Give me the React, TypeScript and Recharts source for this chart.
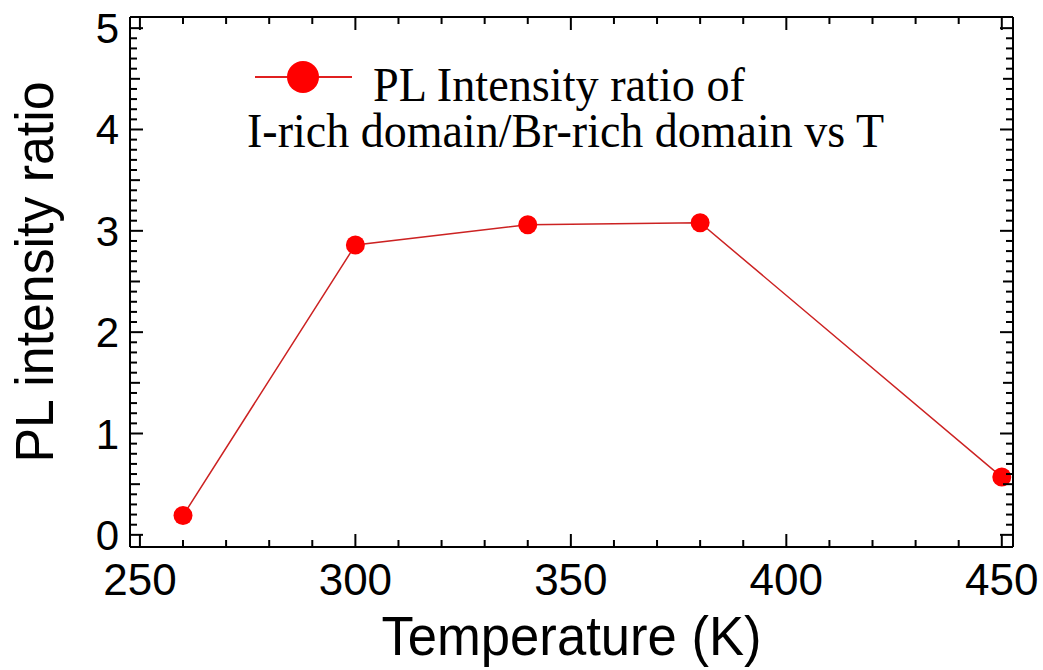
import React from "react";
import { LineChart, Line, XAxis, YAxis, Legend } from "recharts";

// Measured PL intensity ratio (I-rich / Br-rich domain) versus temperature
const temperatures = [260, 300, 340, 380, 450];
const ratios = [0.19, 2.86, 3.06, 3.08, 0.57];

const xTickLabels = [250, 300, 350, 400, 450];
const yTickLabels = [0, 1, 2, 3, 4, 5];
const legendLines = ["PL Intensity ratio of", "I-rich domain/Br-rich domain vs T"];
const seriesName = legendLines.join(" ");

const data = temperatures.map((t, i) => ({ t, ratio: ratios[i] }));

// minor ticks: every 10 K on x, every 0.1 on y
const xTicks: number[] = [];
for (let v = xTickLabels[0]; v <= xTickLabels[xTickLabels.length - 1]; v += 10) xTicks.push(v);
const yTicks: number[] = [];
for (let i = 0; i <= yTickLabels[yTickLabels.length - 1] * 10; i++) yTicks.push(i / 10);

const X_DOMAIN: [number, number] = [247.7, 452.6];
const Y_DOMAIN: [number, number] = [-0.12, 5.11];

const SANS = "'Liberation Sans', Arial, sans-serif";
const SERIF = "'Liberation Serif', 'Times New Roman', serif";
const LINE_RED = "#cc2222";
const DOT_RED = "#ff0000";

const isMajorX = (v: number) => xTickLabels.includes(v);
const yKind = (v: number) => {
  const k = Math.round(v * 10);
  if (k % 10 === 0) return 13;
  if (k % 5 === 0) return 10;
  return 7;
};

const BottomTick = (props: any) => {
  const { x, y, payload } = props;
  const v = payload.value;
  const major = isMajorX(v);
  return (
    <g>
      <line x1={x} x2={x} y1={y} y2={y - (major ? 13 : 7)} stroke="#000" strokeWidth={2} />
      {major && (
        <text x={x} y={y + 48} textAnchor="middle" fontSize={44} fontFamily={SANS} fill="#000">
          {v}
        </text>
      )}
    </g>
  );
};

const TopTick = (props: any) => {
  const { x, y, payload } = props;
  const major = isMajorX(payload.value);
  return <line x1={x} x2={x} y1={y} y2={y + (major ? 13 : 7)} stroke="#000" strokeWidth={2} />;
};

const LeftTick = (props: any) => {
  const { x, y, payload } = props;
  const v = payload.value;
  const len = yKind(v);
  const major = len === 13;
  return (
    <g>
      <line x1={x} x2={x + len} y1={y} y2={y} stroke="#000" strokeWidth={2} />
      {major && (
        <text x={x - 11} y={y + 15} textAnchor="end" fontSize={42} fontFamily={SANS} fill="#000">
          {Math.round(v)}
        </text>
      )}
    </g>
  );
};

const RightTick = (props: any) => {
  const { x, y, payload } = props;
  const len = yKind(payload.value);
  return <line x1={x} x2={x - len} y1={y} y2={y} stroke="#000" strokeWidth={2} />;
};

const XTitle = (props: any) => {
  const vb = props.viewBox || {};
  const cx = vb.x + vb.width / 2;
  return (
    <text x={cx} y={vb.y + 108} textAnchor="middle" fontSize={56} fontFamily={SANS} fill="#000"
      textLength={380} lengthAdjust="spacingAndGlyphs">
      Temperature (K)
    </text>
  );
};

const YTitle = (props: any) => {
  const vb = props.viewBox || {};
  const cx = vb.x + vb.width - 77;
  const cy = vb.y + vb.height / 2 - 10;
  return (
    <text x={cx} y={cy} transform={`rotate(-90, ${cx}, ${cy})`} textAnchor="middle" fontSize={53}
      fontFamily={SANS} fill="#000" textLength={381} lengthAdjust="spacingAndGlyphs">
      PL intensity ratio
    </text>
  );
};

const LegendBox = () => (
  <svg width={1043} height={170} style={{ display: "block", overflow: "visible" }}>
    <line x1={255} x2={352} y1={77} y2={77} stroke="#e02020" strokeWidth={2} />
    <circle cx={303} cy={77} r={16} fill={DOT_RED} />
    <text x={373} y={101} fontSize={48} fontFamily={SERIF} fill="#000" textLength={372}
      lengthAdjust="spacingAndGlyphs">
      {legendLines[0]}
    </text>
    <text x={247} y={147} fontSize={48} fontFamily={SERIF} fill="#000" textLength={637}
      lengthAdjust="spacingAndGlyphs">
      {legendLines[1]}
    </text>
  </svg>
);

export default function App() {
  return (
    <div style={{ position: "absolute", left: 0, top: 0, width: 1043, height: 670, background: "#fff" }}>
      <LineChart width={1043} height={670} data={data} margin={{ top: 12, right: 25, bottom: 63, left: 70 }}>
        <XAxis
          xAxisId="b"
          dataKey="t"
          type="number"
          domain={X_DOMAIN}
          allowDataOverflow
          ticks={xTicks}
          interval={0}
          tickSize={0}
          tickMargin={0}
          tickLine={false}
          height={60}
          axisLine={{ stroke: "#000", strokeWidth: 2 }}
          tick={<BottomTick />}
          label={{ content: <XTitle /> }}
        />
        <XAxis
          xAxisId="t"
          dataKey="t"
          type="number"
          orientation="top"
          domain={X_DOMAIN}
          allowDataOverflow
          ticks={xTicks}
          interval={0}
          tickSize={0}
          tickMargin={0}
          tickLine={false}
          height={5}
          axisLine={{ stroke: "#000", strokeWidth: 2 }}
          tick={<TopTick />}
        />
        <YAxis
          yAxisId="l"
          type="number"
          domain={Y_DOMAIN}
          allowDataOverflow
          ticks={yTicks}
          interval={0}
          tickSize={0}
          tickMargin={0}
          tickLine={false}
          width={60}
          axisLine={{ stroke: "#000", strokeWidth: 2 }}
          tick={<LeftTick />}
          label={{ content: <YTitle /> }}
        />
        <YAxis
          yAxisId="r"
          orientation="right"
          type="number"
          domain={Y_DOMAIN}
          allowDataOverflow
          ticks={yTicks}
          interval={0}
          tickSize={0}
          tickMargin={0}
          tickLine={false}
          width={5}
          axisLine={{ stroke: "#000", strokeWidth: 2 }}
          tick={<RightTick />}
        />
        <Legend
          layout="horizontal"
          verticalAlign="middle"
          content={<LegendBox />}
          wrapperStyle={{ position: "absolute", left: 0, top: 0, width: 1043, height: 170 }}
        />
        <Line
          xAxisId="b"
          yAxisId="l"
          type="linear"
          dataKey="ratio"
          name={seriesName}
          stroke={LINE_RED}
          strokeWidth={1.5}
          dot={{ r: 9.5, fill: DOT_RED, stroke: DOT_RED, strokeWidth: 0 }}
          isAnimationActive={false}
        />
      </LineChart>
    </div>
  );
}
